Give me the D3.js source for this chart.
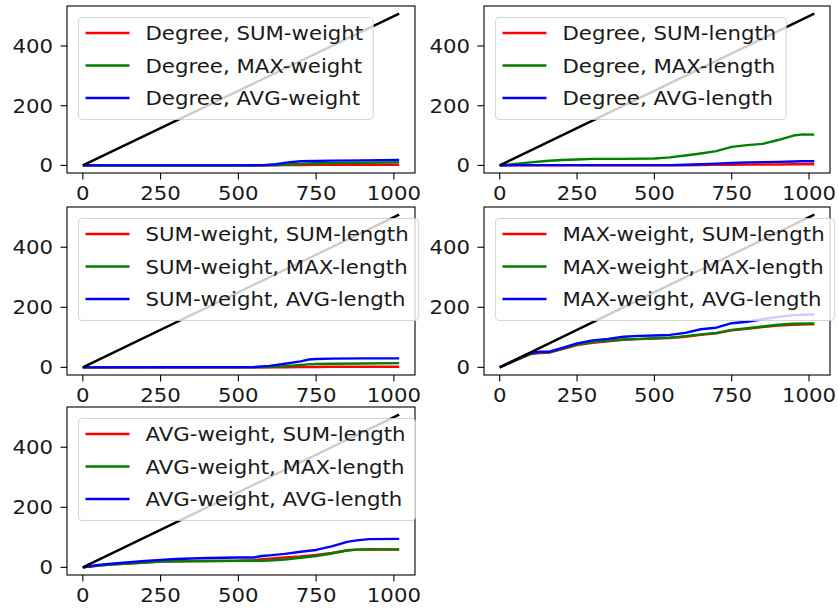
<!DOCTYPE html>
<html>

<head>
    <script src="https://d3js.org/d3.v7.min.js"></script>
    <style>
        body {
            margin: 0;
            background: white;
        }

        text {
            font-family: "DejaVu Sans", sans-serif;
            font-size: 19px;
            fill: #1a1a1a;
        }
    </style>
</head>

<body>
    <div id="chart"></div>

    <script>
        // tick labels
        var xTicks = [0, 250, 500, 750, 1000];
        var yTicks = [0, 200, 400];

        // black reference line, same in every panel
        var diagX = [0, 1017];
        var diagY = [0, 508.5];

        // panel 1: Degree vs weight
        var p1Labels = ["Degree, SUM-weight", "Degree, MAX-weight", "Degree, AVG-weight"];
        var p1X = [0, 100, 200, 300, 400, 500, 580, 620, 660, 700, 750, 800, 900, 1017];
        var p1Sum = [0, 0, 0, 0, 0, 0, 0, 0, 1, 1, 2, 2, 2, 2];
        var p1Max = [0, 0, 0, 0, 0, 0, 0, 1, 3, 5, 7, 8, 9, 10];
        var p1Avg = [0, 0, 0, 0, 0, 0, 1, 4, 10, 14, 15, 16, 17, 18];

        // panel 2: Degree vs length
        var p2Labels = ["Degree, SUM-length", "Degree, MAX-length", "Degree, AVG-length"];
        var p2X = [0, 50, 100, 150, 200, 250, 300, 400, 500, 550, 600, 650, 700, 750, 800, 850, 900, 950, 980, 1017];
        var p2Sum = [0, 0, 0, 0, 0, 0, 0, 0, 0, 0, 0, 1, 2, 2, 3, 3, 3, 4, 4, 4];
        var p2Max = [0, 5, 10, 15, 18, 20, 22, 22, 23, 27, 33, 40, 48, 62, 68, 72, 85, 100, 104, 103];
        var p2Avg = [0, 1, 1, 1, 1, 1, 1, 1, 1, 1, 2, 4, 6, 8, 10, 11, 12, 13, 14, 14];

        // panel 3: SUM-weight vs length
        var p3Labels = ["SUM-weight, SUM-length", "SUM-weight, MAX-length", "SUM-weight, AVG-length"];
        var p3X = [0, 550, 600, 650, 700, 725, 750, 800, 900, 1017];
        var p3Sum = [0, 0, 0, 0, 1, 1, 1, 2, 2, 2];
        var p3Max = [0, 0, 1, 4, 8, 10, 11, 12, 13, 14];
        var p3Avg = [0, 1, 5, 12, 20, 26, 28, 29, 30, 30];

        // panel 4: MAX-weight vs length
        var p4Labels = ["MAX-weight, SUM-length", "MAX-weight, MAX-length", "MAX-weight, AVG-length"];
        var p4X = [0, 50, 100, 130, 160, 200, 250, 300, 350, 400, 450, 500, 550, 600, 650, 700, 750, 800, 850, 900, 950, 1000, 1017];
        var p4Sum = [0, 22, 44, 48, 49, 60, 74, 82, 87, 92, 94, 96, 98, 102, 108, 113, 123, 128, 134, 139, 142, 143, 143];
        var p4Max = [0, 23, 45, 50, 50, 62, 76, 84, 89, 93, 95, 97, 99, 104, 110, 115, 125, 130, 136, 142, 145, 146, 146];
        var p4Avg = [0, 25, 48, 52, 52, 64, 80, 90, 95, 102, 105, 106, 108, 115, 127, 132, 147, 152, 160, 168, 174, 176, 176];

        // panel 5: AVG-weight vs length
        var p5Labels = ["AVG-weight, SUM-length", "AVG-weight, MAX-length", "AVG-weight, AVG-length"];
        var p5X = [0, 50, 100, 150, 200, 250, 300, 400, 500, 550, 575, 600, 650, 700, 750, 800, 850, 880, 920, 1017];
        var p5Sum = [0, 6, 10, 13, 16, 19, 20, 21, 22, 24, 27, 29, 33, 36, 41, 48, 57, 59, 60, 59];
        var p5Max = [0, 6, 10, 13, 16, 19, 20, 21, 22, 22, 22, 23, 26, 32, 38, 46, 56, 59, 60, 60];
        var p5Avg = [0, 8, 13, 17, 21, 25, 28, 31, 33, 33, 38, 40, 45, 52, 58, 70, 85, 90, 94, 95];

        var colors = ["#ff0000", "#008000", "#0000ff"];

        var panels = [
            { labels: p1Labels, x: p1X, ys: [p1Sum, p1Max, p1Avg] },
            { labels: p2Labels, x: p2X, ys: [p2Sum, p2Max, p2Avg] },
            { labels: p3Labels, x: p3X, ys: [p3Sum, p3Max, p3Avg] },
            { labels: p4Labels, x: p4X, ys: [p4Sum, p4Max, p4Avg] },
            { labels: p5Labels, x: p5X, ys: [p5Sum, p5Max, p5Avg] }
        ];

        // axes boxes in the figure
        var cells = [
            { x0: 67, x1: 415, y0: 6, y1: 173 },
            { x0: 484, x1: 830, y0: 6, y1: 173 },
            { x0: 67, x1: 415, y0: 207, y1: 375 },
            { x0: 484, x1: 830, y0: 207, y1: 375 },
            { x0: 67, x1: 415, y0: 407, y1: 575 }
        ];

        var stretch = 1.12;

        var svg = d3.select("#chart")
            .append("svg")
            .attr("width", 838)
            .attr("height", 611);

        function addText(g, x, y, str, anchor) {
            return g.append("text")
                .attr("transform", "translate(" + x + "," + y + ") scale(" + stretch + ",1)")
                .attr("text-anchor", anchor)
                .text(str);
        }

        var xMax = d3.max(diagX), yMax = d3.max(diagY);

        panels.forEach(function (p, i) {
            var c = cells[i];
            var g = svg.append("g");

            var xs = d3.scaleLinear().domain([-0.05 * xMax, xMax * 1.05]).range([c.x0, c.x1]);
            var ys = d3.scaleLinear().domain([-0.05 * yMax, yMax * 1.05]).range([c.y1, c.y0]);

            var line = d3.line()
                .x(function (d) { return xs(d[0]); })
                .y(function (d) { return ys(d[1]); });

            p.ys.forEach(function (s, k) {
                g.append("path")
                    .datum(p.x.map(function (v, j) { return [v, s[j]]; }))
                    .attr("d", line)
                    .attr("fill", "none")
                    .attr("stroke", colors[k])
                    .attr("stroke-width", 2.4)
                    .attr("stroke-linejoin", "round");
            });

            g.append("path")
                .datum(diagX.map(function (v, j) { return [v, diagY[j]]; }))
                .attr("d", line)
                .attr("fill", "none")
                .attr("stroke", "black")
                .attr("stroke-width", 2.4);

            // spines
            g.append("rect")
                .attr("x", c.x0).attr("y", c.y0)
                .attr("width", c.x1 - c.x0).attr("height", c.y1 - c.y0)
                .attr("fill", "none").attr("stroke", "black").attr("stroke-width", 1.1);

            // ticks
            xTicks.forEach(function (t) {
                g.append("line")
                    .attr("x1", xs(t)).attr("x2", xs(t))
                    .attr("y1", c.y1).attr("y2", c.y1 + 6.5)
                    .attr("stroke", "black").attr("stroke-width", 1.1);
                addText(g, xs(t), c.y1 + 27, t, "middle");
            });
            yTicks.forEach(function (t) {
                g.append("line")
                    .attr("x1", c.x0 - 6.5).attr("x2", c.x0)
                    .attr("y1", ys(t)).attr("y2", ys(t))
                    .attr("stroke", "black").attr("stroke-width", 1.1);
                addText(g, c.x0 - 14, ys(t) + 7, t, "end");
            });

            // legend
            var lx = c.x0 + 11.5, ly = c.y0 + 11.5;
            var leg = g.append("g");
            var frame = leg.append("rect");
            var widest = 0;
            p.labels.forEach(function (lab, k) {
                var cy = ly + 15.5 + k * 32.5;
                leg.append("line")
                    .attr("x1", lx + 7).attr("x2", lx + 51)
                    .attr("y1", cy).attr("y2", cy)
                    .attr("stroke", colors[k]).attr("stroke-width", 2.4);
                var t = addText(leg, lx + 67, cy + 7, lab, "start");
                widest = Math.max(widest, t.node().getComputedTextLength() * stretch);
            });
            frame.attr("x", lx).attr("y", ly)
                .attr("width", 67 + widest + 10).attr("height", 102)
                .attr("rx", 4)
                .attr("fill", "white").attr("fill-opacity", 0.8)
                .attr("stroke", "#cccccc").attr("stroke-opacity", 0.8).attr("stroke-width", 1.1);
        });
    </script>
</body>

</html>
